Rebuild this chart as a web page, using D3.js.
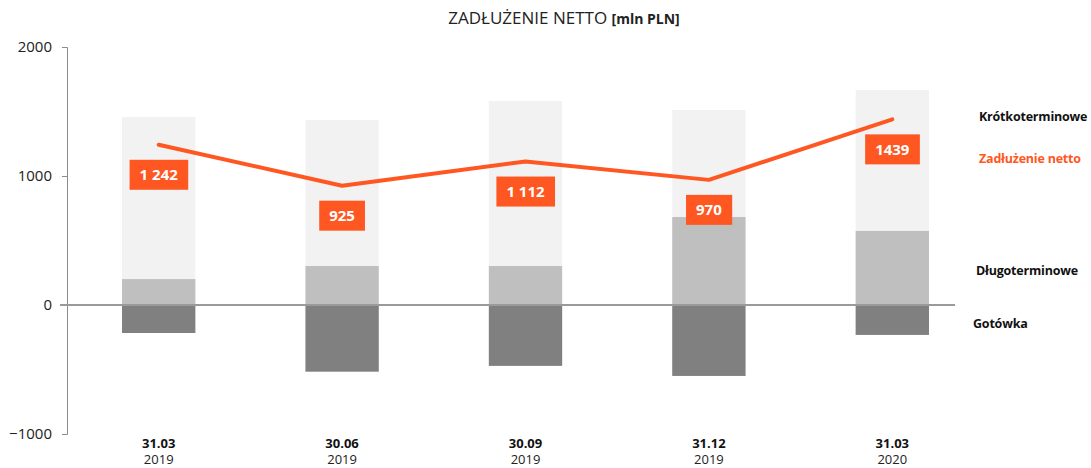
<!DOCTYPE html>
<html lang="pl">
<head>
<meta charset="UTF-8">
<script src="https://d3js.org/d3.v7.min.js"></script>
<style>
    body { margin: 0; background: #fff; }
    text { font-family: "Open Sans", "Noto Sans", sans-serif; }
</style>
</head>
<body>
<svg width="1091" height="468" id="chart"></svg>
<script>
// data (mln PLN)
const dates = ["31.03", "30.06", "30.09", "31.12", "31.03"];
const years = ["2019", "2019", "2019", "2019", "2020"];
const dlugo = [201, 302, 302, 682, 574];
const krotko = [1256, 1132, 1279, 830, 1093];
const gotowka = [-217, -517, -472, -550, -232];
const netto = [1242, 925, 1112, 970, 1439];
const nettoLabels = ["1 242", "925", "1 112", "970", "1439"];
const yTicks = [-1000, 0, 1000, 2000];

const svg = d3.select("#chart");
const orange = "#ff5722";

const x = d3.scaleBand().domain(d3.range(dates.length)).range([67, 984]).paddingInner(0.6).paddingOuter(0.3);
const y = d3.scaleLinear().domain([-1000, 2000]).range([434, 47]);

// title
const title = svg.append("text")
    .attr("x", 564).attr("y", 24)
    .attr("text-anchor", "middle")
    .style("font-size", "17px").attr("fill", "#222");
title.append("tspan").text("ZADŁUŻENIE NETTO ");
title.append("tspan").style("font-weight", "bold").style("font-size", "14px").text("[mln PLN]");

// y axis
svg.append("g")
    .attr("transform", "translate(67,0)")
    .call(d3.axisLeft(y).tickValues(yTicks).tickSize(5).tickPadding(10).tickFormat(d3.format("d")))
    .call(g => g.select(".domain").attr("stroke", "#8c8c8c"))
    .call(g => g.selectAll(".tick line").attr("stroke", "#8c8c8c"))
    .call(g => g.selectAll(".tick text").style("font-size", "15px").attr("fill", "#222")
        .style("font-family", "'Open Sans', sans-serif"));

// bars
const groups = svg.append("g").selectAll("g").data(dates).join("g");
groups.append("rect")
    .attr("x", (d, i) => x(i)).attr("width", x.bandwidth())
    .attr("y", (d, i) => y(dlugo[i] + krotko[i]))
    .attr("height", (d, i) => y(dlugo[i]) - y(dlugo[i] + krotko[i]))
    .attr("fill", "#f2f2f2");
groups.append("rect")
    .attr("x", (d, i) => x(i)).attr("width", x.bandwidth())
    .attr("y", (d, i) => y(dlugo[i]))
    .attr("height", (d, i) => y(0) - y(dlugo[i]))
    .attr("fill", "#bfbfbf");
groups.append("rect")
    .attr("x", (d, i) => x(i)).attr("width", x.bandwidth())
    .attr("y", y(0))
    .attr("height", (d, i) => y(gotowka[i]) - y(0))
    .attr("fill", "#808080");

// zero line
svg.append("line")
    .attr("x1", 60).attr("x2", 955)
    .attr("y1", y(0)).attr("y2", y(0))
    .attr("stroke", "#9a9a9a").attr("stroke-width", 2);

// net debt line
const cx = i => x(i) + x.bandwidth() / 2;
svg.append("path")
    .datum(netto)
    .attr("fill", "none").attr("stroke", orange).attr("stroke-width", 4)
    .attr("stroke-linecap", "round").attr("stroke-linejoin", "round")
    .attr("d", d3.line().x((d, i) => cx(i)).y(d => y(d)));

// labels
netto.forEach((v, i) => {
    const g = svg.append("g");
    const t = g.append("text")
        .attr("x", cx(i)).attr("y", y(v) + 30)
        .attr("text-anchor", "middle").attr("dy", "0.36em")
        .style("font-size", "15px").style("font-weight", "bold")
        .attr("fill", "#fff").text(nettoLabels[i]);
    const bb = t.node().getBBox();
    g.insert("rect", "text")
        .attr("x", bb.x - 10).attr("y", y(v) + 15)
        .attr("width", bb.width + 20).attr("height", 30)
        .attr("fill", orange);
});

// x labels
dates.forEach((d, i) => {
    svg.append("text").attr("x", cx(i)).attr("y", 448)
        .attr("text-anchor", "middle").style("font-size", "13px").style("font-weight", "bold")
        .attr("fill", "#111").text(d);
    svg.append("text").attr("x", cx(i)).attr("y", 464)
        .attr("text-anchor", "middle").style("font-size", "13px")
        .attr("fill", "#222").text(years[i]);
});

// legend labels
const legend = [
    { t: "Krótkoterminowe", x: 979, y: 121, c: "#111" },
    { t: "Zadłużenie netto", x: 979, y: 163, c: orange },
    { t: "Długoterminowe", x: 976, y: 275, c: "#111" },
    { t: "Gotówka", x: 973, y: 328, c: "#111" }
];
svg.append("g").selectAll("text").data(legend).join("text")
    .attr("x", d => d.x).attr("y", d => d.y)
    .style("font-size", "12.5px").style("font-weight", "bold").style("letter-spacing", "-0.2px")
    .attr("fill", d => d.c).text(d => d.t);
</script>
</body>
</html>
